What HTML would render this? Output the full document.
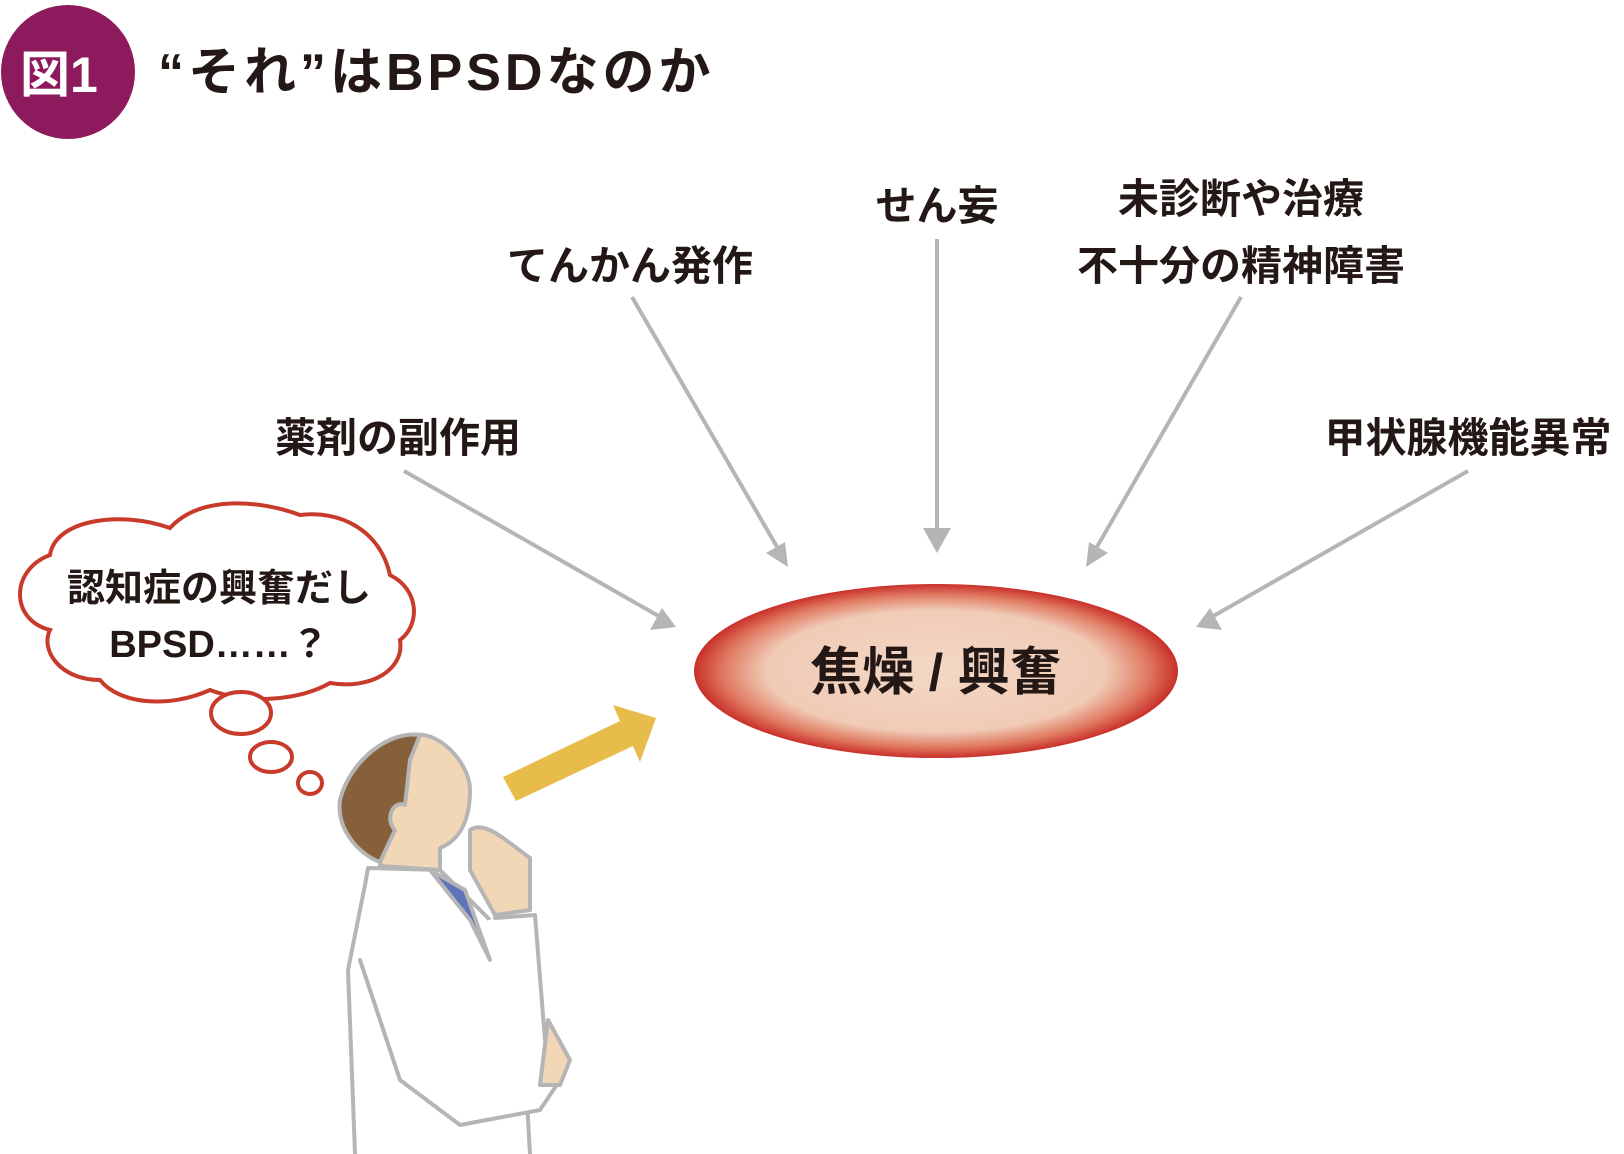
<!DOCTYPE html>
<html><head><meta charset="utf-8"><style>
body{margin:0;background:#fff;}
svg{display:block}
text{font-family:"Liberation Sans","Noto Sans CJK JP",sans-serif;fill:#231815;font-weight:bold}
</style></head><body>
<svg width="1624" height="1154" viewBox="0 0 1624 1154" xmlns="http://www.w3.org/2000/svg">
<defs>
<radialGradient id="eg" cx="50%" cy="50%" r="50%">
<stop offset="0" stop-color="#f3d8c6"/><stop offset="0.7" stop-color="#f0cbb6"/><stop offset="0.88" stop-color="#e07860"/><stop offset="1" stop-color="#c8302a"/>
</radialGradient>
</defs>
<circle cx="68" cy="72" r="67" fill="#8c1a5c"/>
<text x="20" y="92" font-size="50" style="fill:#fff">図1</text>
<text x="158" y="90" font-size="52" letter-spacing="4">“それ”はBPSDなのか</text>

<g font-size="41" text-anchor="middle">
<text x="630" y="280">てんかん発作</text>
<text x="937" y="220">せん妄</text>
<text x="1241" y="213">未診断や治療</text>
<text x="1241" y="280">不十分の精神障害</text>
<text x="398" y="452">薬剤の副作用</text>
<text x="1468" y="452">甲状腺機能異常</text>
</g>

<g stroke="#b5b5b5" stroke-width="4" fill="none">
<line x1="404" y1="471" x2="662" y2="618"/>
<line x1="632" y1="297" x2="780" y2="552"/>
<line x1="937" y1="239" x2="937" y2="536"/>
<line x1="1241" y1="297" x2="1094" y2="552"/>
<line x1="1468" y1="471" x2="1210" y2="618"/>
</g>
<g fill="#b5b5b5">
<polygon points="676,627 650,630 662,608"/>
<polygon points="788,567 766,553 785,542"/>
<polygon points="937,553 923,528 951,528"/>
<polygon points="1086,567 1089,542 1108,553"/>
<polygon points="1196,627 1210,608 1222,630"/>
</g>

<ellipse cx="936" cy="671" rx="242" ry="87" fill="url(#eg)"/>
<text x="936" y="690" font-size="52" text-anchor="middle">焦燥 / 興奮</text>

<path d="M170,528 C200,495 260,500 300,515 C340,510 380,530 390,575 C420,590 420,625 400,640 C405,670 370,690 330,683 C300,700 250,705 210,690 C170,708 120,705 100,680 C60,680 40,650 50,630 C10,620 10,570 50,555 C55,520 120,510 170,528 Z" fill="#fff" stroke="#c83a2a" stroke-width="4"/>
<ellipse cx="241" cy="713" rx="30" ry="21" fill="#fff" stroke="#c83a2a" stroke-width="4"/>
<ellipse cx="271" cy="757" rx="21" ry="15" fill="#fff" stroke="#c83a2a" stroke-width="4"/>
<ellipse cx="310" cy="783" rx="12" ry="11" fill="#fff" stroke="#c83a2a" stroke-width="4"/>
<text x="219" y="601" font-size="38" text-anchor="middle">認知症の興奮だし</text>
<text x="219" y="657" font-size="38" text-anchor="middle">BPSD……？</text>

<polygon points="503,777 620,721 613,705 656,718 640,762 633,746 516,801" fill="#e8bc4a"/>

<g stroke="#b5b5b5" stroke-width="4" stroke-linejoin="round" stroke-linecap="round">
<path d="M355,1154 L348,970 L365,885 L368,868 L440,870 L500,930 L520,980 L530,1154" fill="#fff"/>
<path d="M495,918 L535,915 L545,1040 L560,1080 L540,1110 L460,1125 L400,1080 L360,960" fill="#fff"/>
<path d="M402,740 C430,720 470,760 470,790 C470,820 460,840 440,848 L440,870 L380,866 Z" fill="#f2d7b6"/>
<path d="M420,735 C390,730 350,760 340,800 C336,830 360,855 380,862 L395,830 C385,820 392,800 405,805 L410,760 Z" fill="#85603a"/>
<path d="M430,870 L470,920 L490,960 L465,890 Z" fill="#5f74b8"/>
<path d="M470,830 C485,820 505,840 530,858 L530,910 L495,915 L470,870 Z" fill="#f2d7b6"/>
<path d="M548,1020 L570,1060 L560,1085 L540,1085 Z" fill="#f2d7b6"/>
</g>
</svg>
</body></html>
